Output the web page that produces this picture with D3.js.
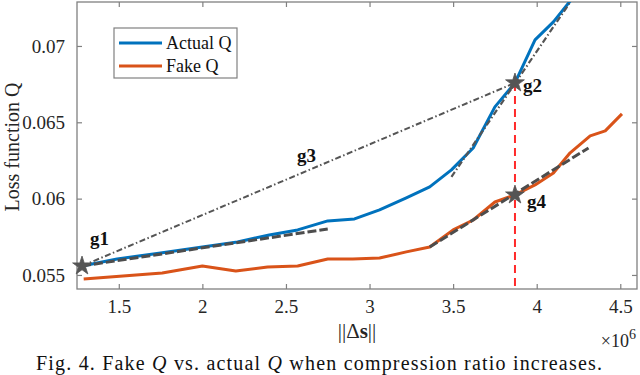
<!DOCTYPE html>
<html>
<head>
<meta charset="utf-8">
<script src="https://cdn.jsdelivr.net/npm/d3@7"></script>
<style>
  body { margin: 0; background: #fff; }
  svg { display: block; }
  svg text { font-family: "Liberation Serif", "DejaVu Serif", serif; }
</style>
</head>
<body>
<div id="chart"></div>
<script>
// Loss function Q vs ||Δs|| (x in units of 1e6)

// series data
var actualX = [1.28, 1.49, 1.75, 2.00, 2.21, 2.40, 2.57, 2.75, 2.91, 3.06, 3.22, 3.36, 3.49, 3.62, 3.75, 3.87, 3.99, 4.10, 4.23];
var actualQ = [0.05559, 0.05605, 0.05644, 0.05683, 0.05716, 0.05762, 0.05795, 0.05854, 0.05867, 0.05926, 0.06005, 0.06077, 0.06188, 0.06332, 0.06601, 0.06758, 0.07040, 0.07158, 0.07335];

var fakeX = [1.29, 1.76, 2.00, 2.20, 2.39, 2.57, 2.75, 2.90, 3.06, 3.22, 3.36, 3.50, 3.62, 3.75, 3.87, 3.99, 4.10, 4.20, 4.32, 4.41, 4.51];
var fakeQ = [0.05474, 0.05513, 0.05559, 0.05526, 0.05552, 0.05559, 0.05605, 0.05605, 0.05611, 0.05651, 0.05683, 0.05795, 0.05860, 0.05978, 0.06024, 0.06090, 0.06168, 0.06300, 0.06411, 0.06444, 0.06555];

// helper lines (pairs of [x, Q])
var tangentG1 = [[1.28, 0.05559], [2.75, 0.05801]];
var chordG3 = [[1.28, 0.05559], [3.87, 0.06758]];
var tangentG2 = [[3.49, 0.06142], [4.26, 0.07383]];
var tangentG4 = [[3.36, 0.05683], [4.31, 0.06332]];
var redLineX = 3.87;

// marked points
var markNames = ["g1", "g2", "g4"];
var markX = [1.28, 3.87, 3.87];
var markQ = [0.05559, 0.06758, 0.06024];

// tick values
var xTicks = [1.5, 2, 2.5, 3, 3.5, 4, 4.5];
var yTicks = [0.055, 0.06, 0.065, 0.07];

var legendNames = ["Actual Q", "Fake Q"];
var colors = ["#0072BD", "#D95319"];

var svgWidth = 640, svgHeight = 375;
var margin = {top: 2, right: 3, bottom: 86, left: 77};
var width = svgWidth - margin.left - margin.right;
var height = svgHeight - margin.top - margin.bottom;

var svg = d3.select("#chart").append("svg")
  .attr("width", svgWidth)
  .attr("height", svgHeight);

var g = svg.append("g")
  .attr("transform", `translate(${margin.left}, ${margin.top})`);

var x = d3.scaleLinear().domain([1.25, 4.6]).range([0, width]);
var y = d3.scaleLinear().domain([0.05408, 0.07288]).range([height, 0]);

g.append("clipPath").attr("id", "plotClip")
  .append("rect").attr("width", width).attr("height", height);

var axisColor = "#808080";

// axes (ticks inside, box on all sides)
function styleAxis(sel) {
  sel.attr("font-family", null).attr("font-size", null);
  sel.select(".domain").remove();
  sel.selectAll("line").attr("stroke", axisColor).attr("stroke-width", 1.2);
  sel.selectAll("text").attr("fill", "#262626").style("font-size", "19px");
}

g.append("g").attr("transform", `translate(0, ${height})`)
  .call(d3.axisBottom(x).tickValues(xTicks).tickSize(-5).tickPadding(11).tickFormat(d => String(d)))
  .call(styleAxis);
g.append("g")
  .call(d3.axisTop(x).tickValues(xTicks).tickSize(-5).tickFormat(""))
  .call(styleAxis);
g.append("g")
  .call(d3.axisLeft(y).tickValues(yTicks).tickSize(-5).tickPadding(12).tickFormat(d => String(+d.toFixed(3))))
  .call(styleAxis);
g.append("g").attr("transform", `translate(${width}, 0)`)
  .call(d3.axisRight(y).tickValues(yTicks).tickSize(-5).tickFormat(""))
  .call(styleAxis);

g.append("rect")
  .attr("width", width).attr("height", height)
  .attr("fill", "none").attr("stroke", axisColor).attr("stroke-width", 1.3);

var plot = g.append("g").attr("clip-path", "url(#plotClip)");

var line = d3.line().x(d => x(d[0])).y(d => y(d[1]));

// series
plot.append("path").datum(d3.zip(actualX, actualQ))
  .attr("d", line).attr("fill", "none")
  .attr("stroke", colors[0]).attr("stroke-width", 3).attr("stroke-linejoin", "round");
plot.append("path").datum(d3.zip(fakeX, fakeQ))
  .attr("d", line).attr("fill", "none")
  .attr("stroke", colors[1]).attr("stroke-width", 3).attr("stroke-linejoin", "round");

// red dashed vertical
plot.append("line")
  .attr("x1", x(redLineX)).attr("x2", x(redLineX))
  .attr("y1", y(markQ[1])).attr("y2", height)
  .attr("stroke", "#ff2a2a").attr("stroke-width", 2)
  .attr("stroke-dasharray", "8,5");

// helper lines
var dashDot = "6,2.5,1.5,2.5";
plot.append("path").datum(chordG3).attr("d", line).attr("fill", "none")
  .attr("stroke", "#555").attr("stroke-width", 2).attr("stroke-dasharray", dashDot);
plot.append("path").datum(tangentG2).attr("d", line).attr("fill", "none")
  .attr("stroke", "#555").attr("stroke-width", 2.2).attr("stroke-dasharray", dashDot);
plot.append("path").datum(tangentG1).attr("d", line).attr("fill", "none")
  .attr("stroke", "#4d4d4d").attr("stroke-width", 3).attr("stroke-dasharray", "9,3");
plot.append("path").datum(tangentG4).attr("d", line).attr("fill", "none")
  .attr("stroke", "#4d4d4d").attr("stroke-width", 3).attr("stroke-dasharray", "9,3");

// stars
g.selectAll(".star").data(d3.range(markX.length)).enter()
  .append("path")
  .attr("transform", i => `translate(${x(markX[i])}, ${y(markQ[i])})`)
  .attr("d", d3.symbol().type(d3.symbolStar).size(110))
  .attr("fill", "#555").attr("stroke", "#555").attr("stroke-width", 0.8);

// annotations
var labelPos = [[8, -21], [8, 9], [12, 13]];
g.selectAll(".mark").data(d3.range(markX.length)).enter()
  .append("text")
  .attr("x", i => x(markX[i]) + labelPos[i][0])
  .attr("y", i => y(markQ[i]) + labelPos[i][1])
  .attr("font-size", 19).attr("font-weight", "bold").attr("fill", "#111")
  .text(i => markNames[i]);
g.append("text")
  .attr("x", 297 - margin.left).attr("y", 162 - margin.top)
  .attr("font-size", 19).attr("font-weight", "bold").attr("fill", "#111")
  .text("g3");

// legend
var legend = g.append("g").attr("transform", `translate(${114 - margin.left}, ${28 - margin.top})`);
legend.append("rect").attr("width", 123).attr("height", 50)
  .attr("fill", "#fff").attr("stroke", axisColor).attr("stroke-width", 1.2);
legendNames.forEach(function(name, i) {
  legend.append("line")
    .attr("x1", 5).attr("x2", 48).attr("y1", 15 + i * 23).attr("y2", 15 + i * 23)
    .attr("stroke", colors[i]).attr("stroke-width", 3);
  legend.append("text")
    .attr("x", 52).attr("y", 21 + i * 23)
    .attr("font-size", 18).attr("fill", "#111")
    .text(name);
});

// axis labels
svg.append("text")
  .attr("transform", "translate(19, 147) rotate(-90)")
  .attr("text-anchor", "middle").attr("font-size", 20).attr("fill", "#262626")
  .text("Loss function Q");

var xl = svg.append("text")
  .attr("x", 357).attr("y", 338)
  .attr("text-anchor", "middle").attr("font-size", 21).attr("fill", "#262626");
xl.append("tspan").text("||Δ");
xl.append("tspan").attr("font-weight", "bold").text("s");
xl.append("tspan").text("||");

var exp = svg.append("text")
  .attr("x", 636).attr("y", 347)
  .attr("text-anchor", "end").attr("font-size", 18).attr("fill", "#262626");
exp.append("tspan").text("×10");
exp.append("tspan").attr("dy", -8).attr("font-size", 14).text("6");

// caption
var cap = svg.append("text")
  .attr("x", 36).attr("y", 370)
  .attr("font-size", 20).attr("fill", "#111")
  .attr("textLength", 566).attr("lengthAdjust", "spacing");
cap.append("tspan").text("Fig. 4.   Fake ");
cap.append("tspan").attr("font-style", "italic").text("Q");
cap.append("tspan").text(" vs. actual ");
cap.append("tspan").attr("font-style", "italic").text("Q");
cap.append("tspan").text(" when compression ratio increases.");
</script>
</body>
</html>
